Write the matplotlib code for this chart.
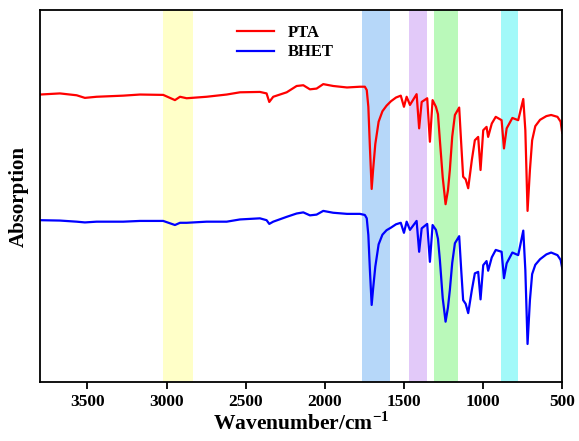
import matplotlib
matplotlib.use('Agg')
import matplotlib.pyplot as plt

plt.rcParams['font.family'] = 'Liberation Serif'
plt.rcParams['font.weight'] = 'bold'
plt.rcParams['mathtext.fontset'] = 'custom'
plt.rcParams['mathtext.rm'] = 'Liberation Serif:bold'
plt.rcParams['mathtext.bf'] = 'Liberation Serif:bold'

# FTIR spectra (arbitrary units)
wavenumber = [3800, 3674, 3568, 3516, 3442, 3274, 3168, 3021, 2947, 2915, 2873, 2747,
              2620, 2536, 2410, 2368, 2351, 2326, 2241, 2178, 2136, 2094, 2052, 2010,
              1947, 1860, 1778, 1747, 1735, 1725, 1715, 1704, 1695, 1681, 1660, 1636,
              1610, 1582, 1550, 1520, 1500, 1483, 1462, 1420, 1404, 1388, 1353, 1336,
              1319, 1298, 1285, 1273, 1255, 1237, 1222, 1210, 1195, 1178, 1151, 1138,
              1126, 1110, 1094, 1071, 1052, 1031, 1016, 999, 978, 968, 945, 920, 883,
              868, 851, 815, 778, 746, 733, 719, 704, 690, 670, 640, 600, 570, 530, 510, 500]
pta = [77.3, 77.6, 77.1, 76.4, 76.7, 77.0, 77.3, 77.2, 75.8, 76.7, 76.3, 76.7,
       77.3, 77.9, 78.0, 77.6, 75.3, 76.7, 77.9, 79.6, 79.8, 78.7, 78.9, 80.1,
       79.6, 79.2, 79.4, 79.4, 78.5, 74.0, 63.0, 51.9, 57.0, 64.0, 70.0, 72.8,
       74.3, 75.5, 76.5, 77.0, 74.0, 76.7, 74.5, 77.4, 68.2, 75.3, 76.3, 64.6,
       75.8, 74.0, 72.0, 65.0, 55.0, 47.8, 51.5, 57.0, 66.0, 71.8, 73.8, 64.0,
       55.2, 54.5, 52.1, 59.7, 65.0, 65.9, 57.0, 67.7, 68.6, 65.9, 69.5, 71.3, 70.4,
       62.8, 68.2, 71.0, 70.4, 76.1, 67.7, 46.0, 57.0, 65.0, 68.8, 70.5, 71.5, 71.8, 71.3, 70.0, 67.0]
bhet = [43.5, 43.4, 43.1, 42.9, 43.1, 43.1, 43.3, 43.3, 42.2, 42.8, 42.8, 43.1,
        43.1, 43.7, 44.0, 43.5, 42.5, 43.1, 44.4, 45.3, 45.6, 44.8, 45.0, 46.0,
        45.5, 45.2, 45.2, 44.9, 44.0, 39.5, 30.0, 20.7, 25.0, 31.0, 37.0, 39.6,
        40.8, 41.5, 42.4, 42.8, 40.1, 43.1, 40.9, 43.3, 35.0, 41.3, 42.5, 32.3,
        42.2, 40.9, 38.5, 32.8, 22.5, 16.2, 20.0, 24.7, 32.0, 37.3, 39.2, 30.0,
        22.0, 21.0, 18.5, 24.7, 29.2, 29.6, 22.2, 31.4, 32.5, 29.9, 33.5, 35.5, 35.0,
        27.9, 31.9, 34.8, 34.1, 40.7, 30.1, 10.2, 22.0, 29.0, 31.5, 33.0, 34.3, 34.8, 34.1, 32.8, 30.6]

# highlighted bands (cm-1)
bands = [(3025, 2835), (1768, 1590), (1465, 1352), (1308, 1156), (885, 778)]
band_colors = ['#ffffc8', '#b6d7f9', '#e2c9f9', '#baf9ba', '#a2f9f9']

fig = plt.figure(figsize=(5.79, 4.41), dpi=100)
ax = fig.add_axes([0.069, 0.134, 0.902, 0.843])

for (hi, lo), c in zip(bands, band_colors):
    ax.axvspan(lo, hi, color=c, lw=0, zorder=0)

ax.plot(wavenumber, pta, color='#ff0000', lw=1.6, label='PTA')
ax.plot(wavenumber, bhet, color='#0000ff', lw=1.6, label='BHET')

ax.set_xlim(3800, 500)
ax.set_ylim(0, 100)
ax.set_xticks([3500, 3000, 2500, 2000, 1500, 1000, 500])
ax.set_yticks([])
ax.tick_params(axis='x', direction='out', length=5, width=1.3, labelsize=12.5)
for s in ax.spines.values():
    s.set_linewidth(1.3)

ax.set_xlabel('Wavenumber/cm$^{\\mathregular{-1}}$', fontsize=15.5, fontweight='bold', labelpad=2)
ax.set_ylabel('Absorption', fontsize=15, fontweight='bold', labelpad=8)

ax.legend(loc='upper center', bbox_to_anchor=(0.47, 1.0), frameon=False,
          prop={'size': 12, 'weight': 'bold'}, handlelength=2.2, labelspacing=0.2)

plt.savefig('out.png', dpi=100)
